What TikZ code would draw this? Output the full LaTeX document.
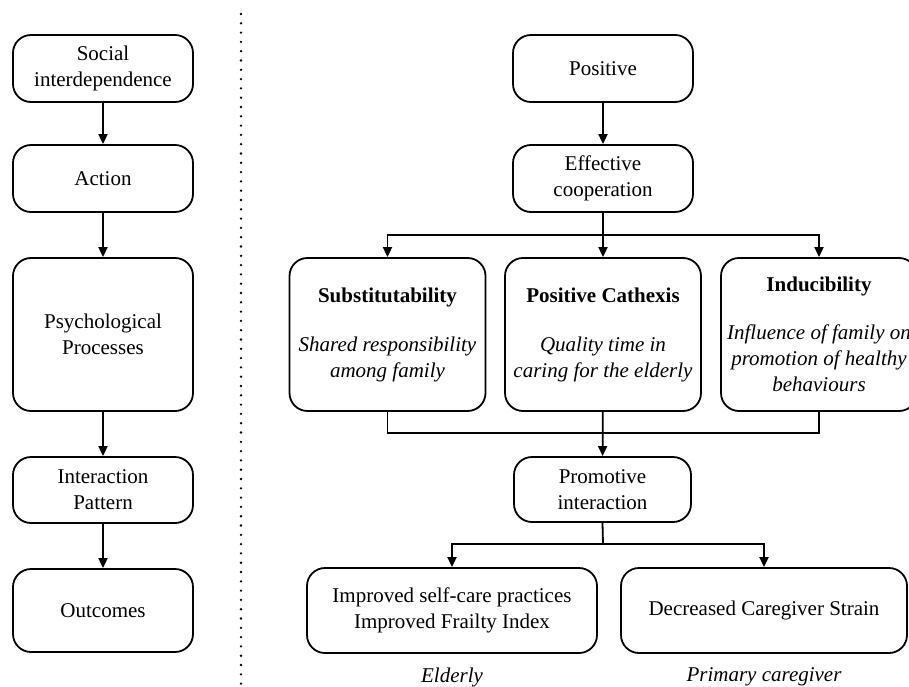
\documentclass[tikz,border=0pt]{standalone}
\usepackage{fontspec}
\setmainfont{Liberation Serif}
\usetikzlibrary{arrows.meta}

\begin{document}
\begin{tikzpicture}[x=1pt,y=-1pt,
  box/.style={draw=black, line width=1.8pt, rounded corners=18pt, align=center,
    inner sep=0pt, font=\fontsize{21}{26}\selectfont},
  arr/.style={line width=1.8pt, -{Triangle[length=10pt,width=9pt]}},
  link/.style={line width=1.8pt},
  dotline/.style={line width=2.6pt, line cap=round, dash pattern=on 0pt off 9.3pt},
  caption/.style={font=\fontsize{21}{26}\selectfont\itshape, inner sep=0pt}
]
\useasboundingbox (0,0) rectangle (909,687);

% left column: the general theory
\node[box, minimum width=180pt, minimum height=67pt] (soc) at (103,68.5) {Social\\interdependence};
\node[box, minimum width=180pt, minimum height=67pt] (act) at (103,178.5) {Action};
\node[box, minimum width=180pt, minimum height=153pt] (psy) at (103,334.5) {Psychological\\Processes};
\node[box, minimum width=180pt, minimum height=66pt] (ipat) at (103,490) {Interaction\\Pattern};
\node[box, minimum width=180pt, minimum height=83pt] (out) at (103,610.5) {Outcomes};

\draw[arr] (soc) -- (act);
\draw[arr] (act) -- (psy);
\draw[arr] (psy) -- (ipat);
\draw[arr] (ipat) -- (out);

% separator
\draw[dotline] (241,14) -- (241,690);

% right column: the applied model
\node[box, minimum width=180pt, minimum height=67pt] (pos) at (603,68.5) {Positive};
\node[box, minimum width=180pt, minimum height=67pt] (eff) at (603,178.5) {Effective\\cooperation};

\node[box, minimum width=196pt, minimum height=153pt] (sub) at (387.5,334.5)
  {\textbf{Substitutability}\\[23pt]\textit{Shared responsibility}\\\textit{among family}};
\node[box, minimum width=196pt, minimum height=153pt] (cat) at (603,334.5)
  {\textbf{Positive Cathexis}\\[23pt]\textit{Quality time in}\\\textit{caring for the elderly}};
\node[box, minimum width=196pt, minimum height=153pt] (ind) at (819,334.5)
  {\textbf{Inducibility}\\[22pt]\textit{Influence of family on}\\\textit{promotion of healthy}\\\textit{behaviours}};

\node[box, minimum width=177pt, minimum height=65pt] (pro) at (602.5,489.5) {Promotive\\interaction};

\node[box, minimum width=290pt, minimum height=85pt] (selfc) at (452,610.5)
  {Improved self-care practices\\Improved Frailty Index};
\node[box, minimum width=286pt, minimum height=85pt] (strain) at (764,610.5)
  {Decreased Caregiver Strain};

\node[caption] (eld) at (452,677) {Elderly};
\node[caption] (pcg) at (764,677) {Primary caregiver};

\coordinate (split) at (603,235);
\coordinate (merge) at (603,433);
\coordinate (fork) at (603,544);

\draw[arr] (pos) -- (eff);
\draw[link] (eff.south) -- (split);
\draw[arr] (split) -| (sub.north);
\draw[arr] (split) -| (ind.north);
\draw[arr] (eff) -- (cat);

\draw[link] (sub.south) |- (merge) -| (ind.south);
\draw[arr] (cat) -- (pro);

\draw[link] (pro.south) -- (fork);
\draw[arr] (fork) -| (selfc.north);
\draw[arr] (fork) -| (strain.north);
\end{tikzpicture}
\end{document}
